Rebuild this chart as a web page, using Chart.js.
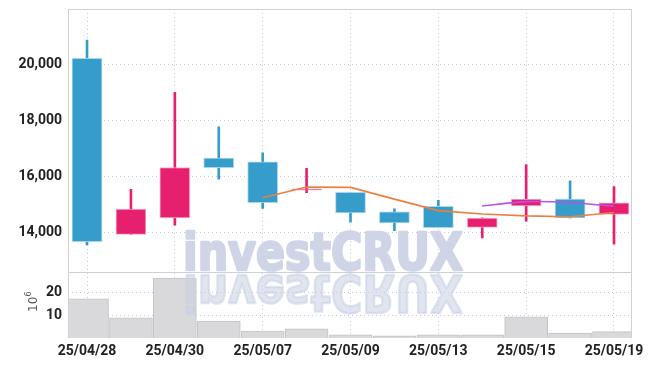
<!DOCTYPE html>
<html>
<head>
<meta charset="utf-8">
<script src="https://cdn.jsdelivr.net/npm/chart.js@4.4.1/dist/chart.umd.min.js"></script>
<style>
  html, body { margin: 0; padding: 0; background: #fff; }
  #wrap { width: 649px; height: 366px; }
</style>
</head>
<body>
<div id="wrap"><canvas id="myChart"></canvas></div>
<script>
// daily candles, prices in won
const dates = ["25/04/28", "25/04/29", "25/04/30", "25/05/02", "25/05/07", "25/05/08", "25/05/09", "25/05/12", "25/05/13", "25/05/14", "25/05/15", "25/05/16", "25/05/19"];
const openPrices = [20220, 13930, 14520, 16660, 16520, 15510, 15430, 14740, 14930, 14180, 14950, 15190, 14640];
const highPrices = [20870, 15540, 19000, 17770, 16840, 16290, 15430, 14840, 15150, 14520, 16420, 15840, 15640];
const lowPrices = [13550, 13930, 14260, 15900, 14860, 15420, 14370, 14060, 14170, 13800, 14400, 14520, 13580];
const closePrices = [13670, 14830, 16320, 16310, 15060, 15560, 14700, 14340, 14170, 14510, 15190, 14520, 15060];
const ma5 = [null, null, null, null, 15240, 15620, 15610, 15190, 14780, 14660, 14590, 14560, 14710];
const ma10 = [null, null, null, null, null, null, null, null, null, 14950, 15100, 15070, 14940];
// volume in millions (10^6)
const volumes = [17.1, 8.8, 26.2, 7.4, 3.0, 4.0, 1.4, 1.0, 1.4, 1.4, 9.3, 2.2, 2.8];
const priceTicks = [14000, 16000, 18000, 20000];
const volumeTicks = [10, 20];
const dateTickIdx = [0, 2, 4, 6, 8, 10, 12];

const RED = "#e6206f";
const BLUE = "#369cc9";
const GRID = "rgba(175,185,215,0.75)";
const tickFont = { family: "Roboto, 'DejaVu Sans Condensed', sans-serif", size: 14, weight: "bold" };

const isUp = closePrices.map((c, i) => c >= openPrices[i]);
const candleColors = isUp.map((u) => (u ? RED : BLUE));
const candleEdges = isUp.map((u) => (u ? "rgba(245,165,195,0.9)" : "rgba(160,210,235,0.9)"));

const noPad = (s) => {
  s.width = 68;
  s.paddingTop = 0;
  s.paddingBottom = 0;
};

function drawMark(ctx, txt, x, y, sx, sy, color) {
  ctx.save();
  ctx.font = "bold 51px 'DejaVu Sans'";
  ctx.translate(x, y);
  ctx.scale(sx, sy);
  ctx.fillStyle = color;
  ctx.strokeStyle = color;
  ctx.lineWidth = 2.6;
  ctx.lineJoin = "round";
  ctx.fillText(txt, 0, 0);
  ctx.strokeText(txt, 0, 0);
  ctx.restore();
}

const decor = {
  id: "decor",
  afterDatasetsDraw(chart) {
    const { ctx, chartArea: a, scales } = chart;
    const sep = scales.vol.top;

    // watermark + reflection
    const txt = "investCRUX";
    ctx.save();
    ctx.font = "bold 51px 'DejaVu Sans'";
    const sx = 280 / ctx.measureText(txt).width;
    ctx.restore();
    drawMark(ctx, txt, 183, sep - 2, sx, 1, "rgb(207,213,231)");
    drawMark(ctx, txt, 183, sep + 3, sx, -1, "rgba(200,207,228,0.55)");

    // frame
    ctx.save();
    ctx.strokeStyle = "#cfd0d6";
    ctx.lineWidth = 1;
    ctx.beginPath();
    ctx.moveTo(a.left + 0.5, a.bottom);
    ctx.lineTo(a.left + 0.5, a.top + 0.5);
    ctx.lineTo(a.right - 0.5, a.top + 0.5);
    ctx.lineTo(a.right - 0.5, a.bottom);
    ctx.moveTo(a.left, Math.round(sep) + 0.5);
    ctx.lineTo(a.right, Math.round(sep) + 0.5);
    ctx.stroke();
    ctx.restore();

    // 10^6 unit label
    ctx.save();
    ctx.translate(37, 302);
    ctx.rotate(-Math.PI / 2);
    ctx.fillStyle = "#555";
    ctx.font = "12px 'DejaVu Sans'";
    ctx.fillText("10", -10, 0);
    ctx.font = "8px 'DejaVu Sans'";
    ctx.fillText("6", 5.5, -6);
    ctx.restore();
  },
};

const config = {
  type: "bar",
  data: {
    datasets: [
      {
        type: "line",
        data: ma5.map((v, i) => ({ x: i, y: v })),
        borderColor: "#ec7f40",
        borderWidth: 1.6,
        pointRadius: 0,
        tension: 0,
        yAxisID: "y",
      },
      {
        type: "line",
        data: ma10.map((v, i) => ({ x: i, y: v })),
        borderColor: "#b852e6",
        borderWidth: 1.6,
        pointRadius: 0,
        tension: 0.2,
        yAxisID: "y",
      },
      {
        data: openPrices.map((o, i) => ({ x: i, y: [o, closePrices[i]] })),
        backgroundColor: candleColors,
        borderColor: candleEdges,
        borderWidth: 1,
        borderSkipped: false,
        barThickness: 30,
        grouped: false,
        yAxisID: "y",
      },
      {
        data: lowPrices.map((l, i) => ({ x: i, y: [l, highPrices[i]] })),
        backgroundColor: candleColors,
        borderWidth: 0,
        barThickness: 2,
        grouped: false,
        yAxisID: "y",
      },
      {
        data: volumes.map((v, i) => ({ x: i, y: v })),
        backgroundColor: "#d9d9db",
        borderColor: "#c3c3c8",
        borderWidth: 1,
        barThickness: 43,
        grouped: false,
        yAxisID: "vol",
      },
    ],
  },
  options: {
    responsive: false,
    animation: false,
    layout: { padding: { top: 9, right: 17, left: 0, bottom: 0 } },
    plugins: {
      legend: { display: false },
      tooltip: { enabled: false },
    },
    scales: {
      x: {
        type: "linear",
        offset: false,
        min: -0.433,
        max: 12.41,
        afterBuildTicks: (s) => { s.ticks = dateTickIdx.map((v) => ({ value: v })); },
        afterFit: (s) => {
          s.height = 28;
          s.paddingLeft = 0;
          s.paddingRight = 0;
        },
        ticks: {
          callback: (v) => dates[v],
          font: tickFont,
          color: "#222",
          padding: 5,
          maxRotation: 0,
          autoSkip: false,
        },
        grid: { color: GRID, drawTicks: false, offset: false },
        border: { display: false, dash: [1, 3] },
      },
      vol: {
        type: "linear",
        position: "left",
        stack: "panel",
        stackWeight: 1,
        min: 0,
        max: 28.8,
        afterBuildTicks: (s) => { s.ticks = volumeTicks.map((v) => ({ value: v })); },
        afterFit: noPad,
        ticks: {
          font: tickFont,
          color: "#222",
          padding: 6,
        },
        grid: { color: GRID, drawTicks: false },
        border: { display: false, dash: [1, 3] },
      },
      y: {
        type: "linear",
        position: "left",
        stack: "panel",
        stackWeight: 4,
        min: 12580,
        max: 21980,
        afterBuildTicks: (s) => { s.ticks = priceTicks.map((v) => ({ value: v })); },
        afterFit: noPad,
        ticks: {
          callback: (v) => v.toLocaleString("en-US"),
          font: tickFont,
          color: "#222",
          padding: 6,
        },
        grid: { color: GRID, drawTicks: false },
        border: { display: false, dash: [1, 3] },
      },
    },
  },
  plugins: [decor],
};

const canvas = document.getElementById("myChart");
canvas.width = 649;
canvas.height = 366;
var myChart = new Chart(canvas, config);
</script>
</body>
</html>
